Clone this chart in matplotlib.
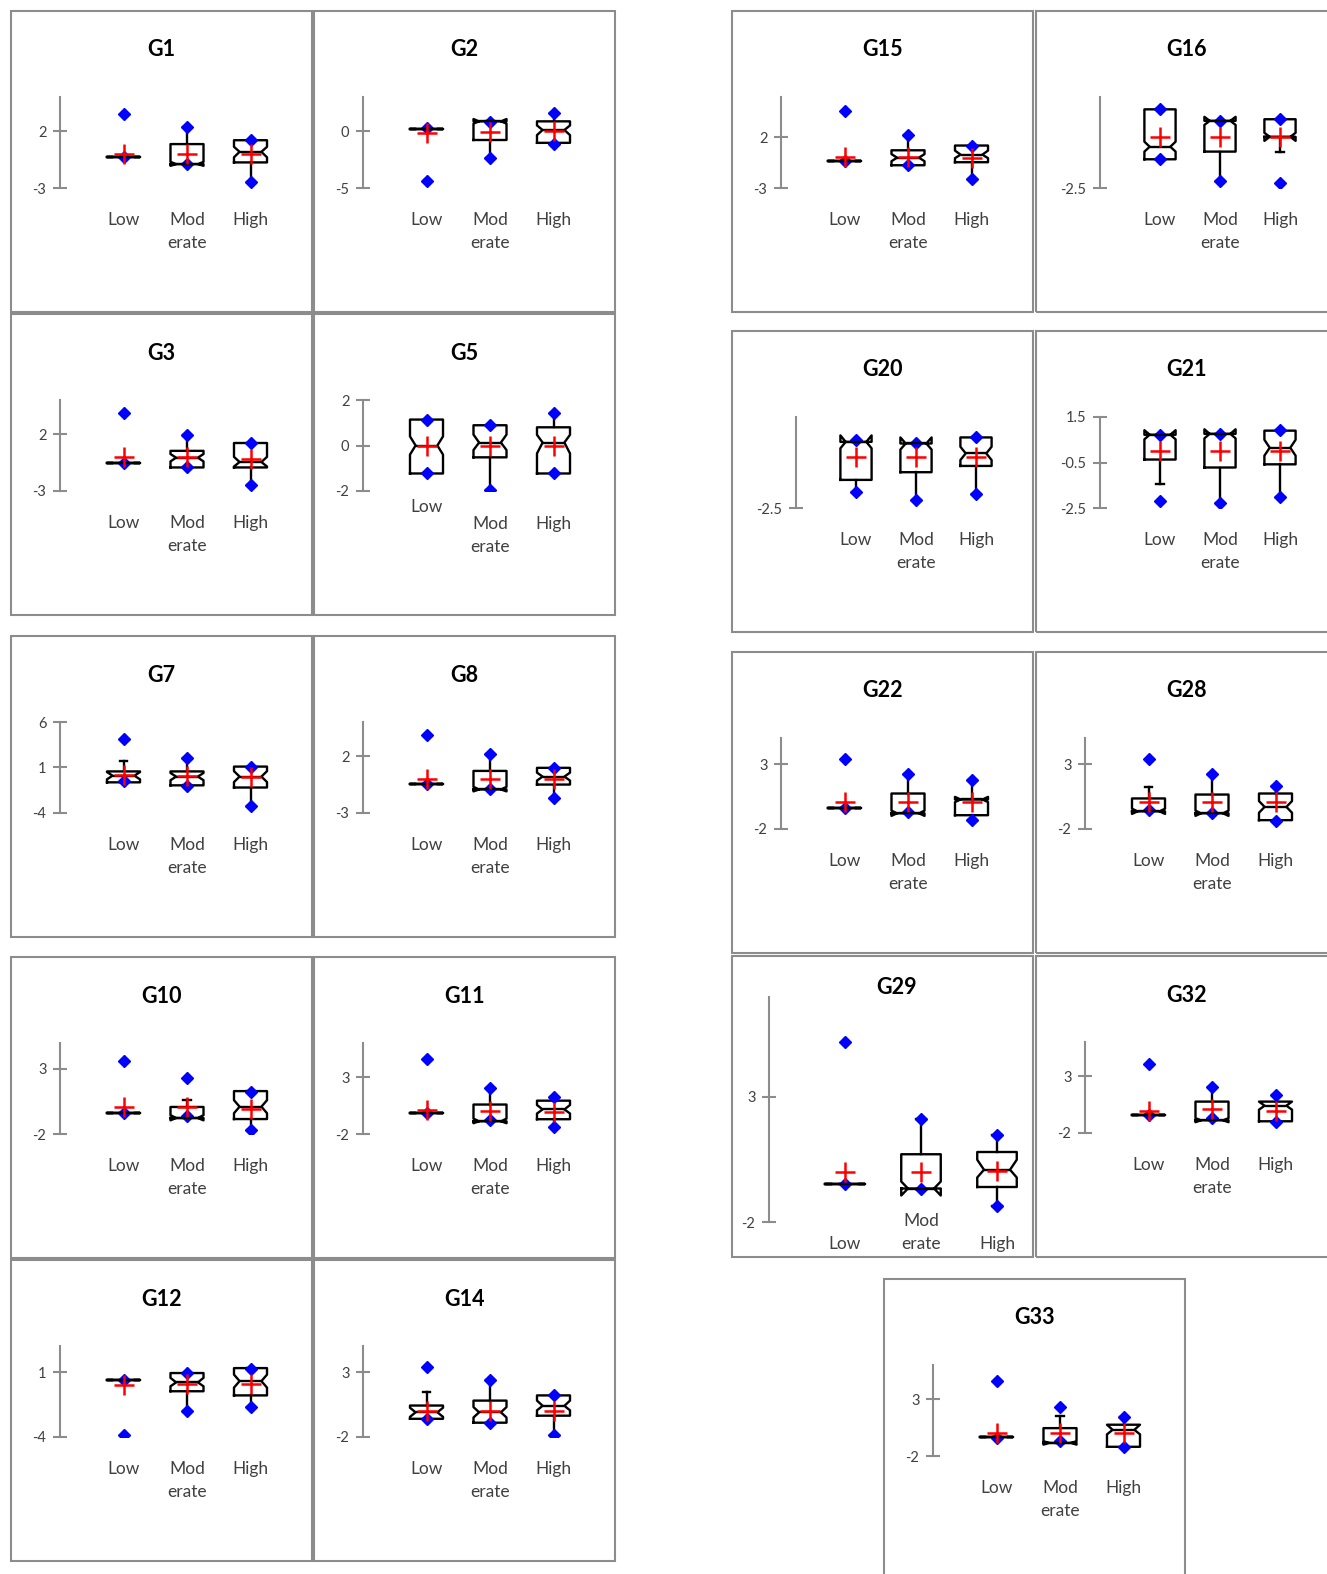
import matplotlib
matplotlib.use('Agg')
import matplotlib.pyplot as plt
from matplotlib.patches import Rectangle
from matplotlib.transforms import blended_transform_factory

W, H = 1327, 1574
plt.rcParams['font.family'] = ['Lato', 'DejaVu Sans']

# ---- data -------------------------------------------------------------
panels = ['G1', 'G2', 'G3', 'G5', 'G7', 'G8', 'G10', 'G11', 'G12', 'G14',
          'G15', 'G16', 'G20', 'G21', 'G22', 'G28', 'G29', 'G32', 'G33']
groups = [['Low'], ['Mod', 'erate'], ['High']]

ylims = [(-3, 5), (-5, 3), (-3, 5), (-2, 2), (-4, 6), (-3, 5), (-2, 5), (-2, 6), (-4, 3), (-2, 5),
         (-3, 6), (-2.5, 2), (-2.5, 2), (-2.5, 1.5), (-2, 5), (-2, 5), (-2, 7), (-2, 6), (-2, 6)]
yticks = [[-3, 2], [-5, 0], [-3, 2], [-2, 0, 2], [-4, 1, 6], [-3, 2], [-2, 3], [-2, 3], [-4, 1], [-2, 3],
          [-3, 2], [-2.5], [-2.5], [-2.5, -0.5, 1.5], [-2, 3], [-2, 3], [-2, 3], [-2, 3], [-2, 3]]

# one row per panel, one value per group (Low, Moderate, High)
vmin = [[-0.3, -0.9, -2.5], [-4.4, -2.4, -1.1], [-0.5, -0.9, -2.5], [-1.23, -1.96, -1.23],
        [-0.5, -1.0, -3.24], [-0.41, -0.85, -1.7], [-0.38, -0.6, -1.7], [-0.19, -0.8, -1.4],
        [-3.85, -1.97, -1.73], [-0.6, -0.9, -1.84], [-0.35, -0.75, -2.1], [-1.08, -2.14, -2.24],
        [-1.73, -2.09, -1.81], [-2.2, -2.28, -2.0], [-0.41, -0.7, -1.3], [-0.56, -0.79, -1.4],
        [-0.48, -0.66, -1.34], [-0.45, -0.7, -1.05], [-0.42, -0.7, -1.19]]
wlo = [[-0.3, -0.9, -2.5], [0.2, -2.4, -1.1], [-0.5, -0.93, -2.5], [-1.23, -1.96, -1.23],
       [-0.63, -0.96, -3.24], [-0.41, -0.93, -1.7], [-0.38, -0.77, -1.7], [-0.19, -0.88, -1.4],
       [0.375, -1.97, -1.73], [-0.6, -0.9, -1.84], [-0.35, -0.75, -2.1], [-1.08, -2.14, -0.7],
       [-1.73, -2.09, -1.81], [-1.46, -2.28, -2.0], [-0.41, -0.79, -1.3], [-0.64, -0.79, -1.4],
       [-0.48, -0.66, -1.34], [-0.45, -0.88, -1.05], [-0.33, -0.85, -1.19]]
q1 = [[-0.3, -0.9, -0.75], [0.2, -0.78, -1.03], [-0.5, -0.93, -0.93], [-1.23, -0.52, -1.23],
      [-0.63, -0.96, -1.2], [-0.41, -0.93, -0.5], [-0.38, -0.77, -0.85], [-0.19, -0.88, -0.7],
      [0.375, -0.48, -0.8], [-0.6, -0.9, -0.36], [-0.35, -0.75, -0.45], [-1.08, -0.7, 0.03],
      [-1.11, -0.73, -0.42], [-0.37, -0.72, -0.58], [-0.41, -0.79, -0.94], [-0.64, -0.79, -1.32],
      [-0.48, -0.66, -0.6], [-0.45, -0.88, -0.97], [-0.33, -0.85, -1.19]]
med = [[-0.3, -0.9, 0.18], [0.2, 0.86, 0.1], [-0.5, -0.07, -0.45], [0.0, 0.13, 0.13],
       [0.1, 0.0, 0.0], [-0.41, -0.93, 0.2], [-0.38, -0.77, 0.1], [-0.19, -0.88, 0.16],
       [0.375, 0.2, 0.3], [-0.1, -0.1, 0.4], [-0.35, 0.0, 0.3], [-0.46, 0.82, 0.03],
       [0.77, 0.69, 0.2], [0.72, 0.76, 0.15], [-0.41, -0.79, 0.27], [-0.64, -0.79, -0.3],
       [-0.48, -0.66, 0.09], [-0.45, -0.88, 0.4], [-0.33, -0.85, 0.3]]
q3 = [[-0.3, 0.86, 1.2], [0.2, 0.86, 0.86], [-0.5, 0.53, 1.22], [1.14, 0.89, 0.8],
      [0.57, 0.57, 1.1], [-0.41, 0.7, 0.97], [-0.38, 0.08, 1.3], [-0.19, 0.59, 0.93],
      [0.375, 0.92, 1.3], [0.42, 0.8, 1.2], [-0.35, 0.73, 1.2], [1.39, 0.82, 0.9],
      [0.77, 0.69, 0.99], [0.72, 0.76, 0.9], [-0.41, 0.73, 0.27], [0.35, 0.65, 0.73],
      [-0.48, 0.71, 0.8], [-0.45, 0.76, 0.76], [-0.33, 0.45, 0.75]]
whi = [[-0.3, 2.4, 1.2], [0.2, 0.86, 1.55], [-0.5, 1.9, 1.22], [1.14, 0.89, 1.43],
       [1.76, 2.09, 1.1], [-0.41, 2.2, 0.97], [-0.38, 0.6, 1.3], [-0.19, 2.05, 1.28],
       [0.375, 0.92, 1.3], [1.44, 2.4, 1.2], [-0.35, 2.2, 1.2], [1.39, 0.82, 0.9],
       [0.77, 0.72, 0.99], [0.72, 0.76, 0.95], [-0.41, 2.25, 1.8], [1.26, 2.2, 1.33],
       [-0.48, 2.13, 1.47], [-0.45, 2.05, 1.36], [-0.33, 1.53, 1.44]]
vmax = [[3.5, 2.4, 1.2], [0.25, 0.8, 1.55], [3.9, 1.9, 1.2], [1.14, 0.89, 1.43],
        [4.15, 2.09, 1.1], [3.9, 2.2, 0.97], [3.6, 2.3, 1.2], [4.6, 2.05, 1.28],
        [0.375, 0.92, 1.23], [3.4, 2.4, 1.2], [4.65, 2.2, 1.2], [1.39, 0.82, 0.9],
        [0.85, 0.72, 0.99], [0.72, 0.76, 0.95], [3.38, 2.25, 1.8], [3.38, 2.2, 1.33],
        [5.22, 2.13, 1.47], [4.1, 2.05, 1.36], [4.56, 2.31, 1.44]]
mean = [[0.0, 0.0, 0.0], [-0.15, -0.1, 0.0], [0.0, 0.0, -0.15], [0.0, 0.0, 0.0],
        [0.13, 0.1, 0.0], [0.0, 0.0, 0.0], [0.1, 0.1, -0.07], [0.07, 0.0, -0.1],
        [-0.02, 0.06, 0.06], [0.03, 0.03, 0.03], [0.04, 0.04, 0.0], [0.03, 0.03, 0.03],
        [0.0, 0.0, 0.0], [0.0, 0.0, 0.0], [0.05, 0.05, 0.05], [0.05, 0.05, 0.05],
        [0.0, 0.0, 0.06], [-0.1, 0.07, -0.1], [0.0, 0.0, 0.0]]
cilo = [[-0.3, -1.05, -0.3], [0.2, 0.66, -0.35], [-0.5, -0.4, -0.85], [-0.4, -0.2, -0.35],
        [-0.3, -0.4, -0.6], [-0.41, -1.1, -0.15], [-0.38, -0.95, -0.4], [-0.19, -1.05, -0.2],
        [0.375, -0.1, -0.2], [-0.45, -0.5, 0.05], [-0.35, -0.35, -0.05], [-0.7, 0.62, -0.17],
        [0.45, 0.39, -0.13], [0.52, 0.56, -0.2], [-0.41, -0.99, 0.07], [-0.84, -0.99, -0.75],
        [-0.48, -0.94, -0.22], [-0.45, -1.05, 0.05], [-0.33, -1.0, -0.1]]
cihi = [[-0.3, -0.7, 0.62], [0.2, 1.06, 0.5], [-0.5, 0.25, 0.0], [0.4, 0.48, 0.47],
        [0.5, 0.4, 0.6], [-0.41, -0.7, 0.55], [-0.38, -0.55, 0.6], [-0.19, -0.65, 0.55],
        [0.375, 0.55, 0.8], [0.25, 0.3, 0.8], [-0.35, 0.35, 0.7], [-0.21, 1.02, 0.23],
        [1.09, 0.99, 0.53], [0.92, 0.96, 0.5], [-0.41, -0.59, 0.47], [-0.44, -0.59, 0.15],
        [-0.48, -0.38, 0.49], [-0.45, -0.7, 0.76], [-0.33, -0.7, 0.75]]

# ---- layout (pixels) --------------------------------------------------
frames = {'G1': (10, 10), 'G2': (313, 10), 'G3': (10, 313), 'G5': (313, 313),
          'G7': (10, 635), 'G8': (313, 635), 'G10': (10, 956), 'G11': (313, 956),
          'G12': (10, 1259), 'G14': (313, 1259), 'G15': (731, 10), 'G16': (1035, 10),
          'G20': (731, 330), 'G21': (1035, 330), 'G22': (731, 651), 'G28': (1035, 651),
          'G29': (731, 955), 'G32': (1035, 955), 'G33': (883, 1278)}
kinds = {'G16': 'wide', 'G20': 'wide', 'G21': 'wide', 'G29': 'tall'}
# axis x, category spacing, plot top, plot bottom (relative to frame)
LAYOUT = {'std': (50, 63.5, 87, 178), 'wide': (65, 60, 87, 178), 'tall': (38, 76, 42, 267)}
label_rows = {'G5': [[194], [211, 234], [211]], 'G29': [[289], [266, 289], [289]]}
title_pos = {'G29': (166, 33)}
FS = 303
BW = 0.52       # box width
NOTCH = 0.33    # notch waist half-width as fraction of box width
GRAY = '#8c8c8c'
TXT = '#404040'


def fx(x):
    return x / W


def fy(y):
    return 1 - y / H


fig = plt.figure(figsize=(W / 100, H / 100), dpi=100)

for i, name in enumerate(panels):
    x0, y0 = frames[name]
    fig.add_artist(Rectangle((fx(x0 + 1), fy(y0 + FS - 1)), (FS - 2) / W, (FS - 2) / H,
                             transform=fig.transFigure, fill=False, ec=GRAY, lw=1.5))
    ax_x, sp, top, bot = LAYOUT[kinds.get(name, 'std')]
    ax = fig.add_axes([fx(x0 + ax_x), fy(y0 + bot), 4 * sp / W, (bot - top) / H])
    ax.patch.set_visible(False)

    stats = []
    for j in range(3):
        stats.append(dict(med=med[i][j], q1=q1[i][j], q3=q3[i][j],
                          whislo=wlo[i][j], whishi=whi[i][j], mean=mean[i][j],
                          cilo=cilo[i][j], cihi=cihi[i][j],
                          fliers=[vmin[i][j], vmax[i][j]]))
    line = dict(color='black', lw=1.7)
    art = ax.bxp(stats, positions=[1, 2, 3], widths=BW, capwidths=0.12,
                 shownotches=True, showmeans=True,
                 boxprops=line, whiskerprops=line, capprops=line, medianprops=line,
                 meanprops=dict(marker='+', markeredgecolor='#ff0000', markersize=14, mew=1.8),
                 flierprops=dict(marker='D', markerfacecolor='#0000ff', markeredgecolor='#0000ff',
                                 markersize=6.5))
    # shallower notches, like the original
    for j, (bx, md) in enumerate(zip(art['boxes'], art['medians'])):
        pos = j + 1
        xs = list(bx.get_xdata())
        xs[3] = pos + BW * NOTCH
        xs[8] = pos - BW * NOTCH
        bx.set_xdata(xs)
        md.set_xdata([pos - BW * NOTCH, pos + BW * NOTCH])

    ax.set_xlim(0, 4)
    ax.set_ylim(*ylims[i])
    for s in ['top', 'right', 'bottom']:
        ax.spines[s].set_visible(False)
    ax.spines['left'].set_color(GRAY)
    ax.spines['left'].set_linewidth(1.5)
    ax.set_xticks([])
    ax.set_yticks(yticks[i])
    ax.set_yticklabels(['%g' % t for t in yticks[i]])
    ax.tick_params(axis='y', direction='inout', length=9.5, width=1.5, color=GRAY,
                   pad=5, labelsize=10.5, labelcolor=TXT)

    trans = blended_transform_factory(ax.transData, fig.transFigure)
    rows = label_rows.get(name, [[210], [210, 233], [210]])
    for j, words in enumerate(groups):
        for w, ry in zip(words, rows[j]):
            ax.text(j + 1, fy(y0 + ry), w, transform=trans, ha='center', va='center',
                    fontsize=12.5, color=TXT)

    tx, ty = title_pos.get(name, (151.5, 40))
    fig.text(fx(x0 + tx), fy(y0 + ty), name, ha='center', va='center',
             fontsize=15.5, fontweight='bold')

fig.savefig('out.png', dpi=100)
